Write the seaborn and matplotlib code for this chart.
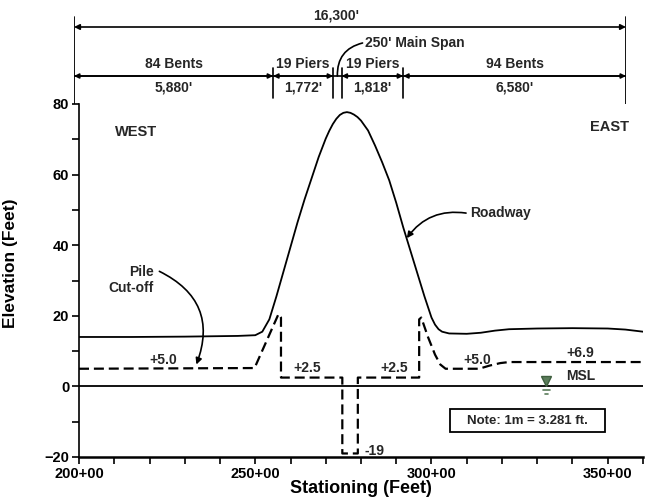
import matplotlib
matplotlib.use("Agg")
from matplotlib import pyplot as plt
from matplotlib.patches import Rectangle
from matplotlib.ticker import MultipleLocator, FuncFormatter
import pandas as pd
import seaborn as sns

sns.set_theme(style="ticks")
plt.rcParams["font.family"] = ["Liberation Sans", "DejaVu Sans"]
plt.rcParams["font.weight"] = "bold"
plt.rcParams["axes.labelweight"] = "bold"


# roadway profile: station (x 100 ft) and elevation (ft)
ROAD_STA = [200, 215, 230, 245, 250, 252, 254, 256, 258, 260, 262, 264, 266,
            268, 270, 271, 272, 273, 274, 275, 276, 277, 278, 279, 280, 282,
            284, 286, 288, 290, 292, 294, 296, 298, 300, 301, 302, 303, 305,
            310, 314, 318, 322, 330, 340, 350, 355, 360]
ROAD_ELEV = [14.0, 14.0, 14.1, 14.3, 14.5, 15.5, 19.0, 25.5, 32.5, 39.5, 46.5,
             53.0, 59.0, 65.0, 70.2, 72.4, 74.3, 75.8, 76.9, 77.5, 77.7, 77.5,
             77.0, 76.3, 75.3, 72.5, 68.2, 63.5, 58.4, 52.0, 45.0, 38.5, 32.0,
             25.5, 19.5, 17.5, 16.2, 15.5, 15.0, 14.9, 15.2, 15.8, 16.2, 16.4,
             16.5, 16.4, 16.1, 15.5]

# pile cut-off elevations
PILE_STA = [200, 249.8, 256.6, 257.3, 257.3, 274.7, 274.7, 279.1, 279.1, 296.5,
            296.5, 297.1, 299, 301, 302.5, 304, 313.5, 316.5, 319.5, 322, 360]
PILE_ELEV = [5.0, 5.2, 20.5, 19.5, 2.5, 2.5, -19.0, -19.0, 2.5, 2.5,
             19.0, 19.5, 14.0, 9.0, 6.2, 5.0, 5.0, 5.9, 6.6, 6.9, 6.9]

MSL_ELEV = 0

# labels on the pile cut-off line
PILE_LABEL_STA = [223.9, 264.7, 289.4, 313.0, 342.3]
PILE_LABEL_ELEV = [5.0, 2.5, 2.5, 5.0, 6.9]
PILE_LABEL_TXT = ["+5.0", "+2.5", "+2.5", "+5.0", "+6.9"]

X_TICKS = [200, 250, 300, 350]
Y_TICKS = [-20, 0, 20, 40, 60, 80]

# span layout along the bridge (ft)
SEG_LEN = [5880, 1772, 250, 1818, 6580]
SEG_TOP = ["84 Bents", "19 Piers", "", "19 Piers", "94 Bents"]
SEG_BOT = ["5,880'", "1,772'", "", "1,818'", "6,580'"]
TOTAL = sum(SEG_LEN)


def main():
    road = pd.DataFrame({"sta": ROAD_STA, "elev": ROAD_ELEV})
    pile = pd.DataFrame({"sta": PILE_STA, "elev": PILE_ELEV})

    fig = plt.figure(figsize=(6.5, 5.03), dpi=100)
    ax = fig.add_axes([79 / 650, 46 / 503, 564 / 650, 353 / 503])

    ax.axhline(MSL_ELEV, color="black", lw=1.3, zorder=1)
    sns.lineplot(data=road, x="sta", y="elev", ax=ax, color="black", lw=1.3,
                 sort=False, estimator=None)
    sns.lineplot(data=pile, x="sta", y="elev", ax=ax, color="black", lw=1.6,
                 sort=False, estimator=None, linestyle=(0, (4.5, 2.2)))

    ax.set_xlim(200, 360)
    ax.set_ylim(-20, 80)
    ax.set_xticks(X_TICKS)
    ax.set_yticks(Y_TICKS)
    ax.xaxis.set_minor_locator(MultipleLocator(10))
    ax.yaxis.set_minor_locator(MultipleLocator(10))
    ax.xaxis.set_major_formatter(FuncFormatter(lambda v, p: f"{int(v)}+00"))
    ax.tick_params(which="both", direction="out", length=5, width=1.2,
                   color="black", labelsize=10.5, labelcolor="black", pad=2)
    sns.despine(ax=ax)
    ax.spines["left"].set_linewidth(1.2)
    ax.spines["bottom"].set_linewidth(1.8)
    for s in ("left", "bottom"):
        ax.spines[s].set_color("black")

    ax.set_xlabel("Stationing (Feet)", fontsize=13, color="black")
    ax.set_ylabel("Elevation (Feet)", fontsize=12.5, color="black")
    ax.xaxis.set_label_coords(0.5, -0.065)
    ax.yaxis.set_label_coords(-0.108, 0.55)

    for s, e, t in zip(PILE_LABEL_STA, PILE_LABEL_ELEV, PILE_LABEL_TXT):
        ax.text(s, e + 0.6, t, ha="center", va="bottom", fontsize=10)

    ax.text(216.2, 72, "WEST", ha="center", va="center", fontsize=10.5)
    ax.text(350.6, 73.5, "EAST", ha="center", va="center", fontsize=10.5)

    ax.text(310.9, 49.1, "Roadway", ha="left", va="center", fontsize=10)
    ax.annotate("", xy=(293, 42), xytext=(309.8, 49.1),
                arrowprops=dict(arrowstyle="-|>", color="black", lw=1.2,
                                connectionstyle="arc3,rad=0.3",
                                shrinkA=0, shrinkB=0, mutation_scale=9))

    ax.text(221.1, 30.1, "Pile\nCut-off", ha="right", va="center",
            fontsize=10, linespacing=1.2)
    ax.annotate("", xy=(233.3, 6.2), xytext=(222.8, 32.6),
                arrowprops=dict(arrowstyle="-|>", color="black", lw=1.2,
                                connectionstyle="arc3,rad=-0.45",
                                shrinkA=0, shrinkB=0, mutation_scale=9))

    ax.text(281.0, -18.3, "-19", ha="left", va="center", fontsize=10)

    # mean sea level marker
    ax.text(342.3, MSL_ELEV + 0.9, "MSL", ha="center", va="bottom", fontsize=10)
    ax.plot([332.6], [MSL_ELEV + 1.4], marker="v", ms=6.5, color="#5b7d5b",
            mec="#3f5f3f")
    ax.plot([331.6, 333.6], [MSL_ELEV - 1.1, MSL_ELEV - 1.1], color="#5b7d5b", lw=1.2)
    ax.plot([332.1, 333.1], [MSL_ELEV - 2.1, MSL_ELEV - 2.1], color="#5b7d5b", lw=1.2)

    ax.add_patch(Rectangle((305.3, -12.8), 43.9, 6.3, fill=False,
                           ec="black", lw=1.3))
    ax.text(327.3, -9.7, "Note: 1m = 3.281 ft.", ha="center", va="center",
            fontsize=9.5)

    # span dimension strip above the profile
    top = fig.add_axes([74 / 650, 399 / 503, 552 / 650, 104 / 503])
    top.set_xlim(0, TOTAL)
    top.set_ylim(104, 0)
    top.axis("off")

    bounds = [0]
    for L in SEG_LEN:
        bounds.append(bounds[-1] + L)

    top.plot([0, 0], [17, 104], color="black", lw=1.3)
    top.plot([TOTAL, TOTAL], [17, 104], color="black", lw=1.3)
    top.annotate("", xy=(0, 27), xytext=(TOTAL, 27),
                 arrowprops=dict(arrowstyle="<|-|>", color="black", lw=1.2,
                                 shrinkA=0, shrinkB=0, mutation_scale=8))
    top.text(TOTAL * 0.475, 15, f"{TOTAL:,}'", ha="center", va="center",
             fontsize=10)

    top.plot([0, TOTAL], [76, 76], color="black", lw=1.2)
    for b in bounds[1:-1]:
        top.plot([b, b], [68, 98], color="black", lw=1.2)
    for a, b, t1, t2 in zip(bounds[:-1], bounds[1:], SEG_TOP, SEG_BOT):
        if b - a > 1000:
            top.annotate("", xy=(a, 76), xytext=(b, 76),
                         arrowprops=dict(arrowstyle="<|-|>", color="black",
                                         lw=1.2, shrinkA=0, shrinkB=0,
                                         mutation_scale=7))
        m = (a + b) / 2
        top.text(m, 64, t1, ha="center", va="center", fontsize=10)
        top.text(m, 88, t2, ha="center", va="center", fontsize=10)

    main_mid = (bounds[2] + bounds[3]) / 2
    top.text(8600, 43, f"{SEG_LEN[2]}' Main Span", ha="left", va="center",
             fontsize=10)
    top.annotate("", xy=(main_mid, 76), xytext=(8520, 43),
                 arrowprops=dict(arrowstyle="-", color="black", lw=1.2,
                                 connectionstyle="arc3,rad=0.4",
                                 shrinkA=0, shrinkB=0))

    fig.savefig("out.png", dpi=100)


if __name__ == "__main__":
    main()
